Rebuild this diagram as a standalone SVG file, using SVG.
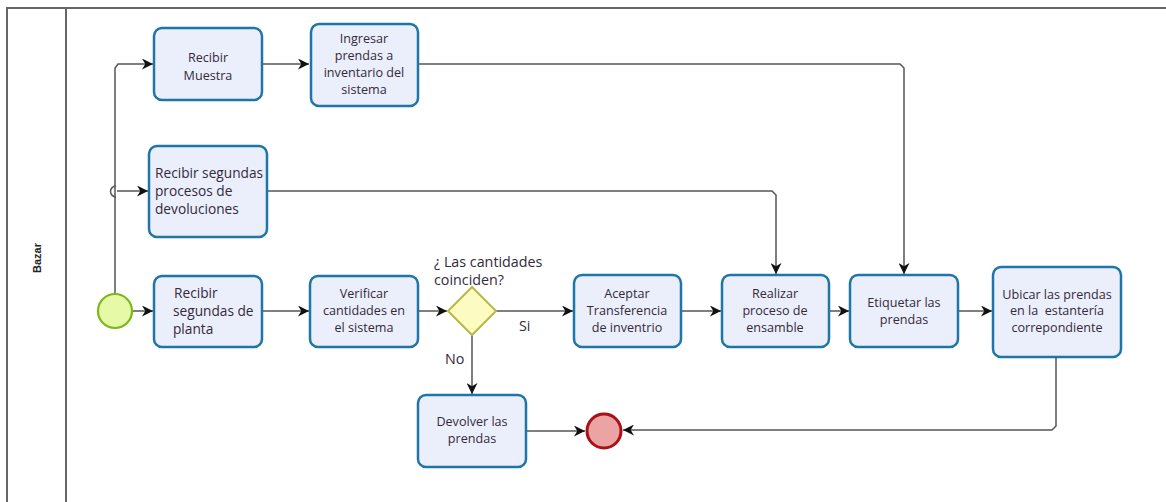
<svg xmlns="http://www.w3.org/2000/svg" width="1166" height="502" viewBox="0 0 1166 502">
  <style>
    .pool { fill: none; stroke: #666; stroke-width: 2; }
    .task { fill: #ebeffc; stroke: #1f75a8; stroke-width: 2.5; }
    .txt { font-family: "Open Sans", "Liberation Sans", sans-serif; font-size: 12.6px; fill: #332a3a; }
    .big { font-size: 13.7px; }
    .q { font-size: 14.3px; }
    .mid { text-anchor: middle; }
    .flow { fill: none; stroke: #555; stroke-width: 1.5; }
    .flowin { fill: none; stroke: #555; stroke-width: 1.5; marker-end: url(#arrow); }
  </style>
  <defs>
    <marker id="arrow" viewBox="0 0 10 10" refX="10" refY="5" markerWidth="11" markerHeight="11" markerUnits="userSpaceOnUse" orient="auto">
      <path d="M0,0 L10,5 L0,10 L3,5 z" fill="#111"/>
    </marker>
  </defs>

  <rect width="1166" height="502" fill="#fff"/>

  <!-- pool and lane -->
  <g id="pool">
    <path class="pool" d="M7,510 L7,8 L1170,8"/>
    <line class="pool" x1="66" y1="8" x2="66" y2="510"/>
    <text x="0" y="0" transform="translate(41,258) rotate(-90)" text-anchor="middle" font-family="Liberation Sans, Arial, sans-serif" font-size="11" font-weight="bold" fill="#222">Bazar</text>
  </g>

  <!-- sequence flows -->
  <g id="connectors">
    <path class="flowin" d="M115,293 L115,68 L118,64 L153,64"/>
    <path class="flow" d="M116,186 A5.5,5.5 0 0 0 116,197"/>
    <path class="flowin" d="M117,191 L148,191"/>
    <path class="flowin" d="M133,311 L153,311"/>
    <path class="flowin" d="M262,311 L309,311"/>
    <path class="flowin" d="M418,311 L447,311"/>
    <path class="flowin" d="M496,311 L573,311"/>
    <path class="flowin" d="M472,335 L472,394"/>
    <path class="flowin" d="M681,311 L721,311"/>
    <path class="flowin" d="M829,311 L849,311"/>
    <path class="flowin" d="M958,311 L992,311"/>
    <path class="flowin" d="M263,64 L309,64"/>
    <path class="flowin" d="M418,64 L900,64 L904,68 L904,274"/>
    <path class="flowin" d="M267,191 L772,191 L776,195 L776,274"/>
    <path class="flowin" d="M1056,357 L1056,426 L1052,430 L623,430"/>
    <path class="flowin" d="M526,431 L585,431"/>
    <text class="txt q" x="519" y="331">Si</text>
    <text class="txt q" x="445" y="364">No</text>
  </g>

  <!-- events -->
  <g id="start">
    <circle cx="115" cy="311" r="17" fill="#e6f9a6" stroke="#7cb81a" stroke-width="2.2"/>
  </g>
  <g id="end">
    <circle cx="604" cy="431" r="17" fill="#eca3a3" stroke="#a8101a" stroke-width="3"/>
  </g>

  <!-- gateway -->
  <g id="gateway">
    <polygon points="472,287 496,311 472,335 448,311" fill="#fbfbc2" stroke="#b8b84a" stroke-width="2"/>
    <text class="txt q"><tspan x="434" y="267">¿ Las cantidades</tspan><tspan x="434" y="285">coinciden?</tspan></text>
  </g>

  <!-- tasks -->
  <g id="recibir-muestra">
    <rect class="task" x="154" y="28" width="108" height="72" rx="8"/>
    <text class="txt mid"><tspan x="208" y="62">Recibir</tspan><tspan x="208" y="80">Muestra</tspan></text>
  </g>
  <g id="ingresar-prendas">
    <rect class="task" x="311" y="24" width="107" height="82" rx="8"/>
    <text class="txt mid"><tspan x="364" y="43">Ingresar</tspan><tspan x="364" y="60">prendas a</tspan><tspan x="364" y="77">inventario del</tspan><tspan x="364" y="94">sistema</tspan></text>
  </g>
  <g id="recibir-devoluciones">
    <rect class="task" x="149" y="146" width="118" height="91" rx="8"/>
    <text class="txt big"><tspan x="155" y="178">Recibir segundas</tspan><tspan x="155" y="196">procesos de</tspan><tspan x="155" y="214">devoluciones</tspan></text>
  </g>
  <g id="recibir-planta">
    <rect class="task" x="154" y="276" width="108" height="71" rx="8"/>
    <text class="txt big"><tspan x="174" y="298">Recibir</tspan><tspan x="173" y="316">segundas de</tspan><tspan x="173" y="334">planta</tspan></text>
  </g>
  <g id="verificar">
    <rect class="task" x="310" y="276" width="108" height="71" rx="8"/>
    <text class="txt mid"><tspan x="364" y="298">Verificar</tspan><tspan x="364" y="315">cantidades en</tspan><tspan x="364" y="332">el sistema</tspan></text>
  </g>
  <g id="aceptar">
    <rect class="task" x="574" y="275" width="107" height="72" rx="8"/>
    <text class="txt mid"><tspan x="627" y="298">Aceptar</tspan><tspan x="627" y="315">Transferencia</tspan><tspan x="627" y="332">de inventrio</tspan></text>
  </g>
  <g id="realizar">
    <rect class="task" x="722" y="275" width="107" height="72" rx="8"/>
    <text class="txt mid"><tspan x="775" y="298">Realizar</tspan><tspan x="775" y="315">proceso de</tspan><tspan x="775" y="332">ensamble</tspan></text>
  </g>
  <g id="etiquetar">
    <rect class="task" x="850" y="275" width="108" height="72" rx="8"/>
    <text class="txt mid"><tspan x="904" y="307">Etiquetar las</tspan><tspan x="904" y="324">prendas</tspan></text>
  </g>
  <g id="ubicar">
    <rect class="task" x="993" y="267" width="128" height="90" rx="8"/>
    <text class="txt mid"><tspan x="1057" y="299">Ubicar las prendas</tspan><tspan x="1057" y="315" xml:space="preserve">en la  estantería</tspan><tspan x="1057" y="332">correpondiente</tspan></text>
  </g>
  <g id="devolver">
    <rect class="task" x="418" y="395" width="108" height="72" rx="8"/>
    <text class="txt mid"><tspan x="472" y="426">Devolver las</tspan><tspan x="472" y="443">prendas</tspan></text>
  </g>
</svg>
